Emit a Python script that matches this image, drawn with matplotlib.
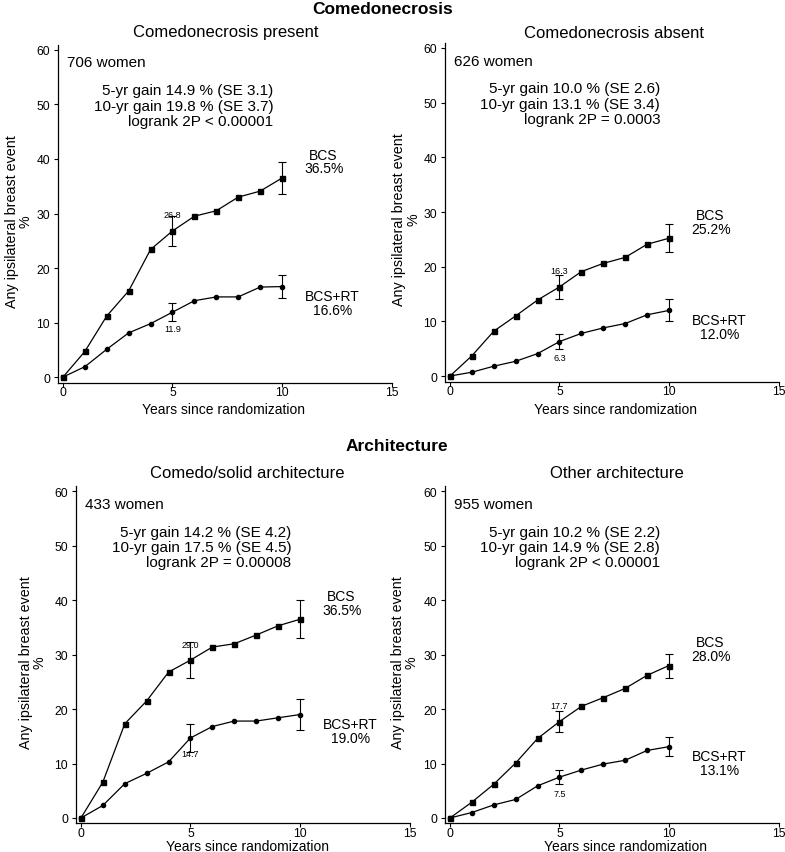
import matplotlib
matplotlib.use("Agg")
import matplotlib.pyplot as plt

plt.rcParams['font.family'] = ['Liberation Sans', 'DejaVu Sans']

W, H = 785, 853

# Years of follow-up, error bars drawn at 5 and 10 years
years = list(range(11))
err_years = [5, 10]

# Comedonecrosis present
cp_bcs = [0, 4.7, 11.2, 15.8, 23.4, 26.8, 29.5, 30.5, 33.0, 34.1, 36.5]
cp_rt = [0, 1.9, 5.1, 8.1, 9.8, 11.9, 14.0, 14.7, 14.7, 16.5, 16.6]
cp_bcs_err = [2.7, 3.0]
cp_rt_err = [1.7, 2.1]

# Comedonecrosis absent
ca_bcs = [0, 3.7, 8.2, 11.0, 13.9, 16.3, 19.1, 20.6, 21.7, 24.1, 25.2]
ca_rt = [0, 0.7, 1.8, 2.7, 4.1, 6.3, 7.8, 8.8, 9.6, 11.2, 12.0]
ca_bcs_err = [2.2, 2.6]
ca_rt_err = [1.4, 2.0]

# Comedo/solid architecture
cs_bcs = [0, 6.6, 17.3, 21.5, 26.8, 29.0, 31.4, 32.0, 33.6, 35.3, 36.5]
cs_rt = [0, 2.3, 6.3, 8.2, 10.3, 14.7, 16.8, 17.8, 17.8, 18.4, 19.0]
cs_bcs_err = [3.3, 3.5]
cs_rt_err = [2.6, 2.9]

# Other architecture
oa_bcs = [0, 2.9, 6.2, 10.1, 14.6, 17.7, 20.5, 22.1, 23.8, 26.2, 28.0]
oa_rt = [0, 1.0, 2.4, 3.4, 5.9, 7.5, 8.8, 9.9, 10.6, 12.4, 13.1]
oa_bcs_err = [1.9, 2.2]
oa_rt_err = [1.3, 1.7]

titles = ['Comedonecrosis present', 'Comedonecrosis absent',
          'Comedo/solid architecture', 'Other architecture']
women = ['706 women', '626 women', '433 women', '955 women']
gain5 = ['5-yr gain 14.9 % (SE 3.1)', '5-yr gain 10.0 % (SE 2.6)',
         '5-yr gain 14.2 % (SE 4.2)', '5-yr gain 10.2 % (SE 2.2)']
gain10 = ['10-yr gain 19.8 % (SE 3.7)', '10-yr gain 13.1 % (SE 3.4)',
          '10-yr gain 17.5 % (SE 4.5)', '10-yr gain 14.9 % (SE 2.8)']
logrank = ['logrank 2P < 0.00001', 'logrank 2P = 0.0003',
           'logrank 2P = 0.00008', 'logrank 2P < 0.00001']

series = [
    (cp_bcs, cp_rt, cp_bcs_err, cp_rt_err),
    (ca_bcs, ca_rt, ca_bcs_err, ca_rt_err),
    (cs_bcs, cs_rt, cs_bcs_err, cs_rt_err),
    (oa_bcs, oa_rt, oa_bcs_err, oa_rt_err),
]

# Layout in pixels: axes left, right, top, bottom; subtitle centre;
# x label centre / top; y label right edge
layout = [
    dict(box=(57.5, 391.5, 45.5, 383.5), sub=(226, 33), xl=(224, 403), yl=33),
    dict(box=(444.5, 778.5, 43.5, 382.5), sub=(614, 33), xl=(616, 403), yl=420),
    dict(box=(75.5, 409.5, 486.9, 824.4), sub=(247, 474), xl=(247, 840.5), yl=47),
    dict(box=(444.5, 778.5, 486.9, 824.4), sub=(617, 474), xl=(626, 840.5), yl=419),
]


def draw_panel(fig, i):
    bcs, rt, bcs_err, rt_err = series[i]
    lay = layout[i]
    left, right, top, bottom = lay['box']
    ax = fig.add_axes([left / W, 1 - bottom / H, (right - left) / W, (bottom - top) / H])

    # Curves
    ax.plot(years, bcs, color='black', lw=0.9, marker='s', ms=3.6)
    ax.plot(years, rt, color='black', lw=0.9, marker='o', ms=3.0)

    # Error bars at 5 and 10 years
    ax.errorbar(err_years, [bcs[y] for y in err_years], yerr=bcs_err, fmt='none',
                ecolor='black', elinewidth=0.8, capsize=2.6, capthick=0.8)
    ax.errorbar(err_years, [rt[y] for y in err_years], yerr=rt_err, fmt='none',
                ecolor='black', elinewidth=0.8, capsize=2.6, capthick=0.8)

    # 5-yr values
    ax.annotate(f'{bcs[5]:.1f}', (5, bcs[5]), xytext=(0, 11.5), textcoords='offset points',
                ha='center', va='center', fontsize=6.5)
    ax.annotate(f'{rt[5]:.1f}', (5, rt[5]), xytext=(0, -11.5), textcoords='offset points',
                ha='center', va='center', fontsize=6.5)

    # End labels
    ax.text(11.9, bcs[10] + 3, f'BCS\n{bcs[10]:.1f}%', ha='center', va='center',
            fontsize=10, linespacing=0.95)
    ax.text(12.3, rt[10] - 3, f'BCS+RT\n{rt[10]:.1f}%', ha='center', va='center',
            fontsize=10, linespacing=0.95)

    # Stats
    ax.text(0.2, 57.7, women[i], ha='left', va='center', fontsize=11)
    ax.text(9.6, 52.6, gain5[i], ha='right', va='center', fontsize=11)
    ax.text(9.6, 49.8, gain10[i], ha='right', va='center', fontsize=11)
    ax.text(9.6, 47.0, logrank[i], ha='right', va='center', fontsize=11)

    ax.set_xlim(-0.25, 15)
    ax.set_ylim(-1, 61)
    ax.set_xticks([0, 5, 10, 15])
    ax.set_yticks(range(0, 61, 10))
    ax.spines['top'].set_visible(False)
    ax.spines['right'].set_visible(False)
    ax.spines['left'].set_linewidth(0.9)
    ax.spines['bottom'].set_linewidth(0.9)
    ax.tick_params(axis='x', direction='out', length=3, width=0.8, labelsize=8.7, pad=-0.3)
    ax.tick_params(axis='y', direction='out', length=3, width=0.8, labelsize=8.7, pad=2.3)

    ax.set_xlabel('Years since randomization', fontsize=10)
    ax.xaxis.set_label_coords((lay['xl'][0] - left) / (right - left),
                              (bottom - lay['xl'][1]) / (bottom - top))
    ax.set_ylabel('Any ipsilateral breast event\n%', fontsize=10.3, linespacing=1.0)
    ax.yaxis.set_label_coords((lay['yl'] - left) / (right - left), 0.48)

    fig.text(lay['sub'][0] / W, 1 - lay['sub'][1] / H, titles[i],
             ha='center', va='center', fontsize=12)
    return ax


def main():
    fig = plt.figure(figsize=(W / 100, H / 100), dpi=100)
    for i in range(4):
        draw_panel(fig, i)

    fig.text(383 / W, 1 - 9 / H, 'Comedonecrosis', ha='center', va='center',
             fontsize=12.5, fontweight='bold')
    fig.text(397 / W, 1 - 447 / H, 'Architecture', ha='center', va='center',
             fontsize=12.5, fontweight='bold')

    fig.savefig('out.png', dpi=100)


if __name__ == '__main__':
    main()
